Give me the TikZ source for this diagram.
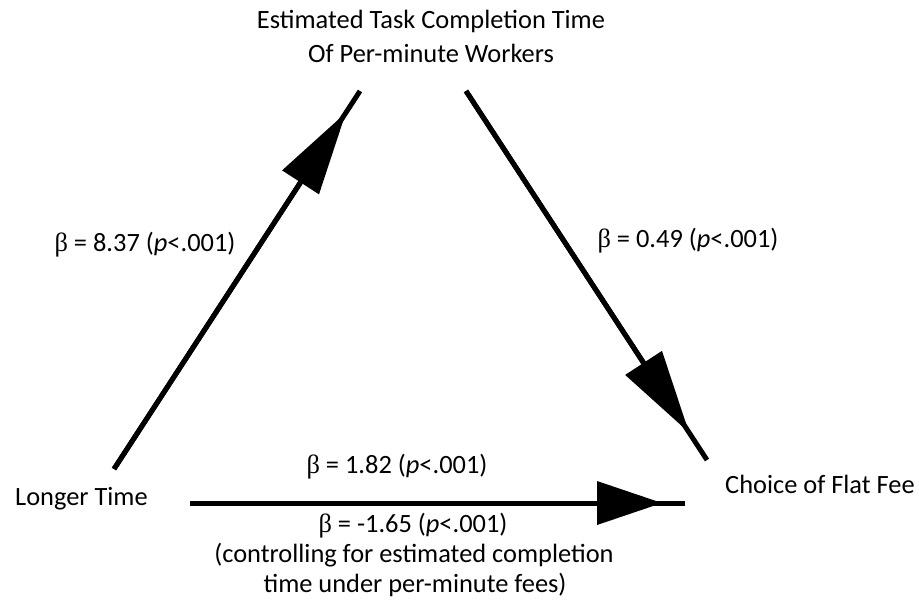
\documentclass[tikz,border=0pt]{standalone}
\usepackage{fontspec}
\setmainfont{Carlito}
\newfontfamily\betafont{Liberation Serif}
\usetikzlibrary{arrows.meta,calc}
\newcommand{\bt}{{\betafont β}}

\begin{document}
\begin{tikzpicture}[x=1pt, y=-1pt, font=\fontsize{26.4}{30}\selectfont]
    \useasboundingbox (0,0) rectangle (919,611);
    \tikzset{
        wire/.style={line width=5pt},
        varbox/.style={inner sep=0pt, align=center},
        coef/.style={inner sep=0pt, anchor=base, align=center}
    }

    % Variables
    \node[varbox, anchor=base, font=\fontsize{26.4}{34}\selectfont] (mediator) at (431,62)
        {Estimated Task Completion Time\\Of Per-minute Workers};
    \node[varbox, anchor=base west] (longer) at (15,505) {Longer Time};
    \node[varbox, anchor=base west] (flatfee) at (725,493) {Choice of Flat Fee};

    % Path ends
    \coordinate (a1) at (114,469);
    \coordinate (a2) at (360,91);
    \coordinate (b1) at (466,91);
    \coordinate (b2) at (707,460);
    \coordinate (c1) at (190,503);
    \coordinate (c2) at (685,503);

    % Each path: full line, head sits a bit before the end.
    \foreach \from/\to/\len/\gap in {a1/a2/83/26, b1/b2/83/33, c1/c2/65/23} {
        \draw[wire] (\from) -- (\to);
        \draw[wire, -{Triangle[length=\len pt, width=44pt, line width=0pt]}]
            (\from) -- ($(\to)!\gap pt!(\from)$);
    }

    % Coefficients
    \node[coef] (coefa) at (145,251) {\bt{} = 8.37 (\textit{p}<.001)};
    \node[coef] (coefb) at (688,247) {\bt{} = 0.49 (\textit{p}<.001)};
    \node[coef] (coefc) at (397,473) {\bt{} = 1.82 (\textit{p}<.001)};
    \node[coef] (coefd) at (413,532) {\bt{} = -1.65 (\textit{p}<.001)};
    \node[coef] (note) at (414,562)
        {(controlling for estimated completion};
    \node[coef] (note2) at (415,592)
        {time under per-minute fees)};
\end{tikzpicture}
\end{document}
